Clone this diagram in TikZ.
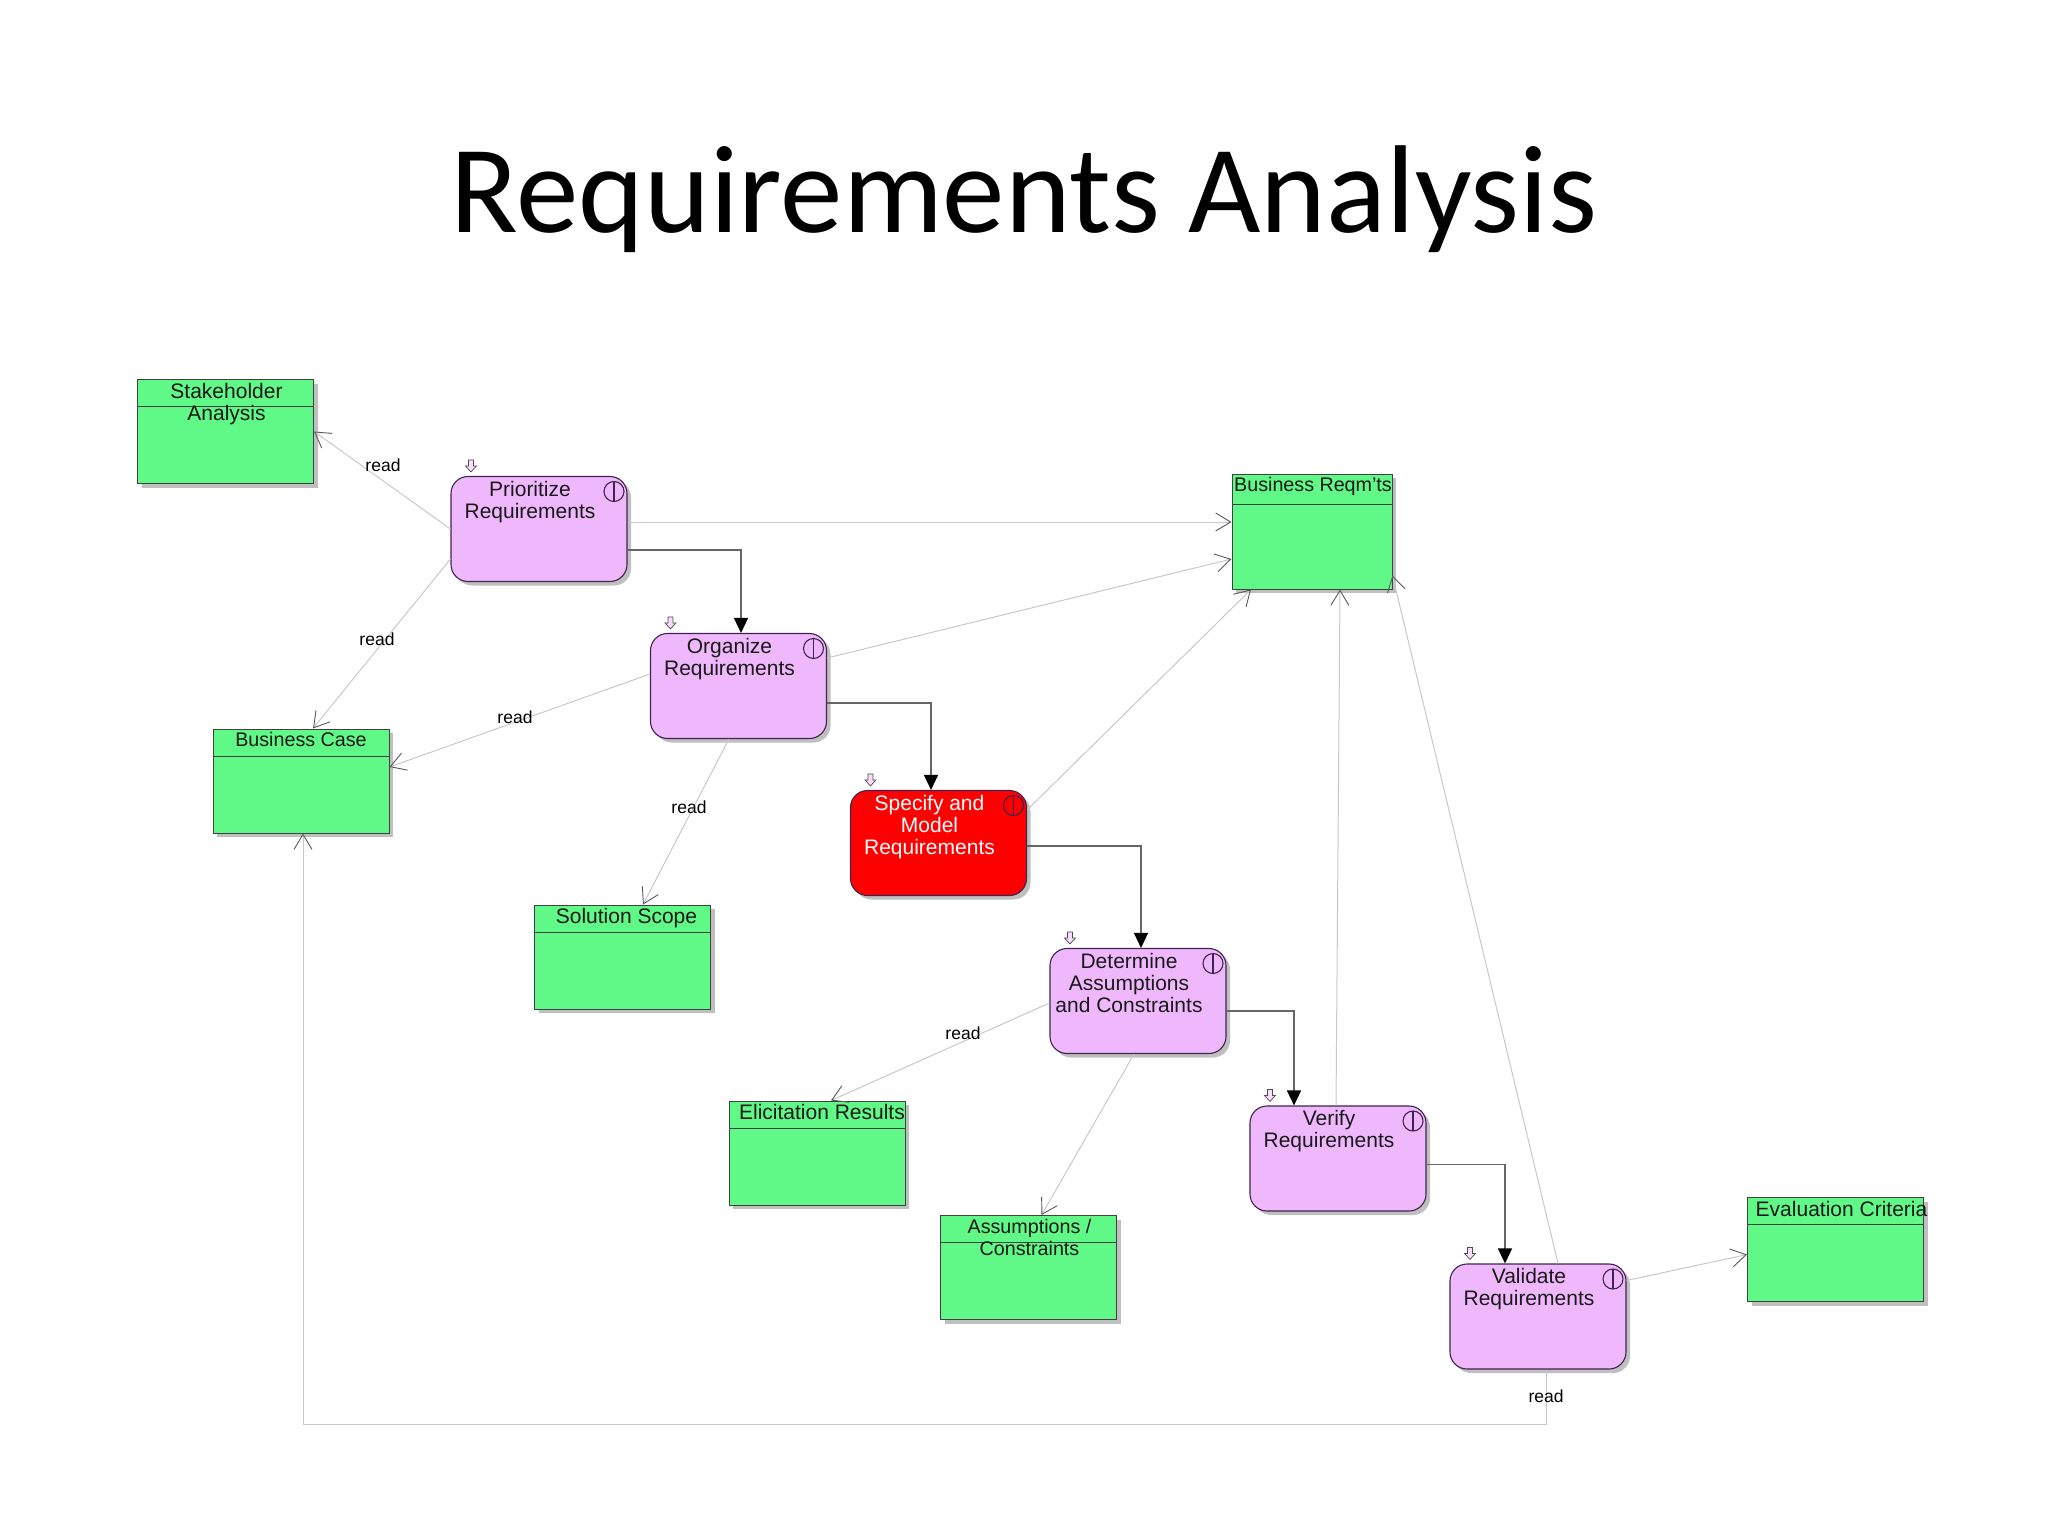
\documentclass[tikz,border=0pt]{standalone}
\usepackage{fontspec}
\setmainfont{Liberation Sans}
\newfontfamily\titlefont{Carlito}
\usetikzlibrary{arrows.meta,shadows}

\begin{document}
\begin{tikzpicture}[x=1pt,y=-1pt]
  \tikzset{taskbox/.style={rectangle,rounded corners=17pt,draw=taskedge,fill=taskpink,line width=1.1pt,inner sep=0pt,
      minimum width=176pt,minimum height=105pt,
      drop shadow={shadow xshift=4pt,shadow yshift=-4pt,fill=black!25,opacity=1},
      path picture={
        \draw[taskedge,line width=1.1pt] ([xshift=-13pt,yshift=-15pt]path picture bounding box.north east) circle[radius=10pt];
        \draw[taskedge,line width=1.1pt] ([xshift=-13pt,yshift=-5pt]path picture bounding box.north east) -- ++(0,20);
      }}}
  \tikzset{databox/.style={rectangle,draw=black!75,fill=datagreen,line width=1pt,inner sep=0pt,
      minimum width=176pt,minimum height=104pt,
      drop shadow={shadow xshift=4pt,shadow yshift=-4pt,fill=black!25,opacity=1},
      path picture={
        \draw[black!75,line width=0.9pt] ([yshift=-27pt]path picture bounding box.north west) -- ([yshift=-27pt]path picture bounding box.north east);
      }}}
  \tikzset{boxtext/.style={anchor=north,align=center,inner sep=0pt,text=black!90,yshift=-5pt,
      font=\fontsize{21}{22}\selectfont}}
  \tikzset{datatext/.style={boxtext,yshift=1pt}}
  \tikzset{datasmall/.style={datatext,font=\fontsize{19.7}{22}\selectfont}}
  \tikzset{readlabel/.style={inner sep=0pt,font=\fontsize{17.5}{20}\selectfont}}
  \tikzset{readedge/.style={draw=lineg,line width=1pt,-{Straight Barb[length=15pt,width=18pt,line width=0.9pt,color=black!65]}}}
  \tikzset{flowedge/.style={draw=black!60,line width=1.3pt,-{Triangle[length=15pt,width=14pt,color=black]}}}
  \tikzset{taskmark/.style={draw=black!70,fill=taskpink!50,line width=0.7pt}}

  \definecolor{taskpink}{RGB}{240,184,252}
  \definecolor{taskedge}{RGB}{62,36,78}
  \definecolor{datagreen}{RGB}{96,248,135}
  \definecolor{lineg}{RGB}{200,200,200}

  \useasboundingbox (0,0) rectangle (2048,1536);

  \node[font=\fontsize{125}{135}\selectfont\titlefont,anchor=base,inner sep=0pt] (title) at (1024,232) {Requirements Analysis};

  % data boxes
  \node[databox,label={[datatext,xshift=1pt]north:{Stakeholder\\Analysis}}] (stakeholder) at (225.5,431.5) {};
  \node[databox,minimum width=160pt,minimum height=115pt,
    path picture={\draw[black!75,line width=0.9pt] ([yshift=-30pt]path picture bounding box.north west) -- ([yshift=-30pt]path picture bounding box.north east);},
    label={[datasmall,xshift=1pt]north:{Business Reqm'ts}}] (reqmts) at (1312,531.5) {};
  \node[databox,label={[datasmall]north:{Business Case}}] (bizcase) at (301,781) {};
  \node[databox,label={[datatext,xshift=4pt]north:{Solution Scope}}] (scope) at (622.5,957) {};
  \node[databox,label={[datatext,xshift=5pt]north:{Elicitation Results}}] (elicit) at (817,1153) {};
  \node[databox,label={[datasmall,xshift=1pt]north:{Assumptions /\\Constraints}}] (assump) at (1028.5,1267.5) {};
  \node[databox,label={[datatext,xshift=6pt]north:{Evaluation Criteria}}] (evalcrit) at (1835.5,1249.5) {};

  % tasks
  \node[taskbox,label={[boxtext,xshift=-9pt]north:{Prioritize\\Requirements}}] (prioritize) at (539,529) {};
  \node[taskbox,label={[boxtext,xshift=-9pt]north:{Organize\\Requirements}}] (organize) at (738.5,686) {};
  \node[taskbox,fill=red,label={[boxtext,xshift=-9pt,text=white]north:{Specify and\\Model\\Requirements}}] (specify) at (938.5,843) {};
  \node[taskbox,label={[boxtext,xshift=-9pt]north:{Determine\\Assumptions\\and Constraints}}] (determine) at (1138,1001) {};
  \node[taskbox,label={[boxtext,xshift=-9pt]north:{Verify\\Requirements}}] (verify) at (1338,1158.5) {};
  \node[taskbox,label={[boxtext,xshift=-9pt]north:{Validate\\Requirements}}] (validate) at (1538,1316.5) {};

  \foreach \task in {prioritize,organize,specify,determine,verify,validate}
    \draw[taskmark] ([shift={(18,-16)}]\task.north west) -- ++(5,0) -- ++(0,6) -- ++(3,0) -- ++(-5.5,6) -- ++(-5.5,-6) -- ++(3,0) -- cycle;

  \draw[readedge] (prioritize.west) -- (stakeholder.east);
  \draw[readedge] ([yshift=-30pt]prioritize.west) -- ([xshift=12pt]bizcase.north);
  \draw[readedge] ([yshift=7pt]prioritize.east) -- ([yshift=9.5pt]reqmts.west);
  \draw[readedge] ([yshift=28pt]organize.east) -- ([yshift=-27.5pt]reqmts.west);
  \draw[readedge] ([yshift=12pt]organize.west) -- ([yshift=14pt]bizcase.east);
  \draw[readedge] ([xshift=-9.5pt]organize.south) -- ([xshift=20.5pt]scope.north);
  \draw[readedge] ([yshift=33pt]specify.east) -- ([xshift=-61pt]reqmts.south);
  \draw[readedge] ([yshift=-2pt]determine.west) -- ([xshift=14pt]elicit.north);
  \draw[readedge] ([xshift=-4pt]determine.south) -- ([xshift=13pt]assump.north);
  \draw[readedge] ([xshift=-2pt]verify.north) -- ([xshift=28pt]reqmts.south);
  \draw[readedge] ([xshift=20pt]validate.north) -- ([yshift=-44pt]reqmts.east);
  \draw[readedge] ([yshift=36pt]validate.east) -- ([yshift=-5pt]evalcrit.west);
  \draw[readedge] ([xshift=8pt]validate.south) -- ++(0,55) -| ([xshift=2pt]bizcase.south);

  \draw[flowedge] ([yshift=-21pt]prioritize.east) -| ([xshift=2.5pt]organize.north);
  \draw[flowedge] ([yshift=-17pt]organize.east) -| ([xshift=-7.5pt]specify.north);
  \draw[flowedge] ([yshift=-3pt]specify.east) -| ([xshift=3pt]determine.north);
  \draw[flowedge] ([yshift=-10pt]determine.east) -| ([xshift=-44pt]verify.north);
  \draw[flowedge] ([yshift=-6pt]verify.east) -| ([xshift=-33pt]validate.north);

  \node[readlabel] (read1) at (383,465) {read};
  \node[readlabel] (read2) at (377,639) {read};
  \node[readlabel] (read3) at (515,717) {read};
  \node[readlabel] (read4) at (689,807) {read};
  \node[readlabel] (read5) at (963,1033) {read};
  \node[readlabel] (read6) at (1546,1396) {read};
\end{tikzpicture}
\end{document}
